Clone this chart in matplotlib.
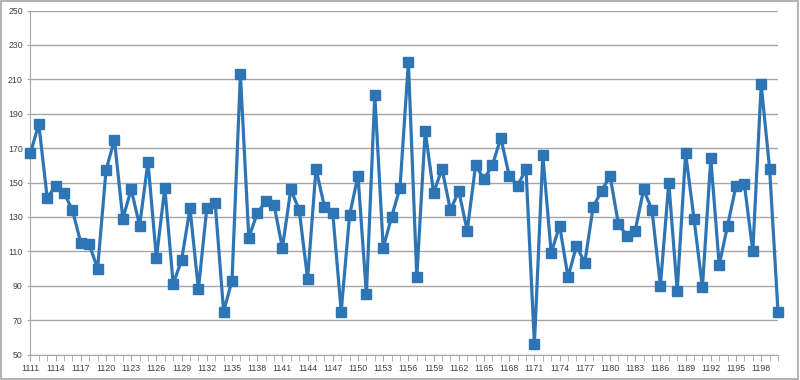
import matplotlib.pyplot as plt
from matplotlib.patches import Rectangle

plt.rcParams['font.family'] = ['Liberation Sans', 'DejaVu Sans']

years = list(range(1111, 1201))
values = [167, 184, 141, 148, 144, 134, 115, 114, 100, 157,
          175, 129, 146, 125, 162, 106, 147, 91, 105, 135,
          88, 135, 138, 75, 93, 213, 118, 132, 139, 137,
          112, 146, 134, 94, 158, 136, 132, 75, 131, 154,
          85, 201, 112, 130, 147, 220, 95, 180, 144, 158,
          134, 145, 122, 160, 152, 160, 176, 154, 148, 158,
          56, 166, 109, 125, 95, 113, 103.5, 136, 145, 154,
          126, 119, 122, 146, 134, 90, 150, 87, 167, 129,
          89, 164, 102, 125, 148, 149, 110, 207, 158, 75]
yticks = list(range(50, 251, 20))
xlabels = years[::3]

fig = plt.figure(figsize=(8, 3.8), dpi=100)
ax = fig.add_axes([0.038, 0.067, 0.9345, 0.9053])

ax.plot(years, values, color='#2E75B6', lw=2.3, marker='s', markersize=7,
        markerfacecolor='#2E75B6', markeredgecolor='#2E75B6', zorder=3,
        clip_on=False)

ax.set_xlim(years[0], years[-1])
ax.set_ylim(50, 250)
ax.set_yticks(yticks)
ax.set_xticks(years, minor=True)
ax.set_xticks(xlabels)
ax.set_xticklabels([str(y) for y in xlabels])
ax.yaxis.grid(True, color='#A6A6A6', lw=1)
ax.set_axisbelow(True)

for s in ['top', 'right']:
    ax.spines[s].set_visible(False)
for s in ['left', 'bottom']:
    ax.spines[s].set_color('#A6A6A6')

ax.tick_params(axis='y', length=2.5, color='#A6A6A6', labelsize=6.3,
               labelcolor='#404040', pad=3)
ax.tick_params(axis='x', which='both', length=4, color='#A6A6A6',
               labelsize=6.3, labelcolor='#404040', pad=3)

fig.patches.append(Rectangle((0.001, 0.002), 0.997, 0.995, transform=fig.transFigure,
                             fill=False, edgecolor='#A6A6A6', lw=1.2))

fig.savefig('out.png', dpi=100)
